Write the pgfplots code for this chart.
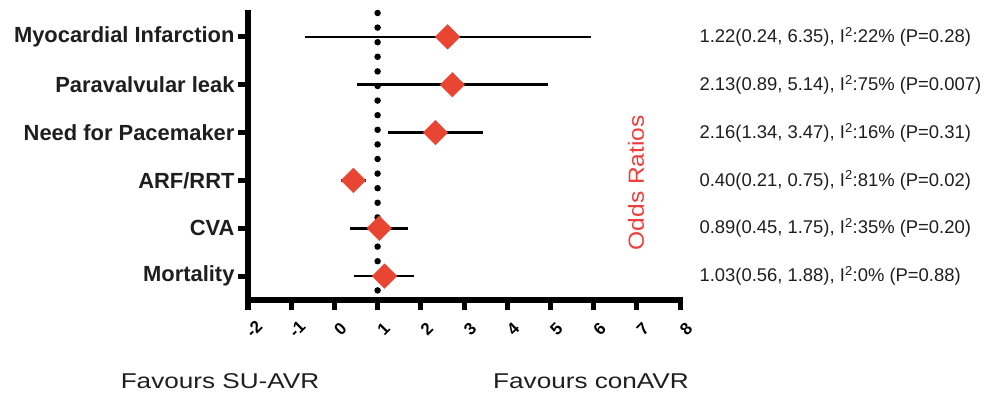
\documentclass[border=0pt]{standalone}
\usepackage{pgfplots}
\pgfplotsset{compat=1.18}
\usepackage{fontspec}
\setmainfont{Liberation Sans}
\definecolor{dred}{RGB}{232,70,50}
\definecolor{ored}{RGB}{236,62,58}
\definecolor{txt}{RGB}{30,30,30}
\begin{document}
\begin{tikzpicture}
\path[use as bounding box] (0,0) rectangle (992bp,394bp);
\begin{axis}[
  at={(248bp,94bp)}, anchor=south west,
  scale only axis, width=432bp, height=287bp,
  xmin=-2, xmax=8, ymin=0.5, ymax=6.5,
  axis x line=bottom, axis y line=left,
  axis line style={-, line width=5.5bp, line cap=rect},
  xtick={-2,...,8}, ytick={1,...,6},
  yticklabels={Mortality, CVA, ARF/RRT, Need for Pacemaker, Paravalvular leak, Myocardial Infarction},
  tick align=outside, major tick length=10bp,
  every tick/.style={black, line width=5bp},
  yticklabel style={font=\fontsize{22}{22}\selectfont\bfseries, text=txt},
  xticklabel style={font=\fontsize{17}{17}\selectfont\bfseries, xshift=6bp, yshift=-19bp, rotate=45, anchor=center},
  /pgf/number format/assume math mode=true,
  clip=false,
]
% reference line of no effect
\addplot[black, line width=6.5bp, line cap=round, dash pattern=on 0bp off 14.6bp] coordinates {(1,6.5) (1,0.5)};
% confidence intervals (drawn beneath the markers)
\addplot[black, line width=2.8bp] coordinates {(-0.69,6) (5.93,6)};
\addplot[black, line width=2.8bp] coordinates {(0.53,5) (4.95,5)};
\addplot[black, line width=2.8bp] coordinates {(1.23,4) (3.43,4)};
% point estimates
\addplot[only marks, mark=square*, mark size=8.7bp, mark options={rotate=45, fill=dred, draw=dred}] coordinates {
(2.62,6) (2.73,5) (2.34,4) (0.44,3) (1.04,2) (1.16,1)};
% confidence intervals (drawn over the markers)
\addplot[black, line width=2.8bp] coordinates {(0.16,3) (0.74,3)};
\addplot[black, line width=2.8bp] coordinates {(0.37,2) (1.71,2)};
\addplot[black, line width=2.8bp] coordinates {(0.46,1) (1.85,1)};
% annotations
\begin{scope}[every node/.style={anchor=west, text=txt, font=\fontsize{18.5}{18.5}\selectfont}]
\node at (axis cs:8.37,6) {1.22(0.24, 6.35), I\textsuperscript{2}:22\% (P=0.28)};
\node at (axis cs:8.37,5) {2.13(0.89, 5.14), I\textsuperscript{2}:75\% (P=0.007)};
\node at (axis cs:8.37,4) {2.16(1.34, 3.47), I\textsuperscript{2}:16\% (P=0.31)};
\node at (axis cs:8.37,3) {0.40(0.21, 0.75), I\textsuperscript{2}:81\% (P=0.02)};
\node at (axis cs:8.37,2) {0.89(0.45, 1.75), I\textsuperscript{2}:35\% (P=0.20)};
\node at (axis cs:8.37,1) {1.03(0.56, 1.88), I\textsuperscript{2}:0\% (P=0.88)};
\end{scope}
\node[rotate=90, text=ored, font=\fontsize{22}{22}\selectfont] at (axis cs:6.98,2.95) {\scalebox{1.12}[1]{Odds Ratios}};
\end{axis}
\node[anchor=base, text=txt, font=\fontsize{21.5}{21.5}\selectfont] at (220bp,6bp) {\scalebox{1.22}[1]{Favours SU-AVR}};
\node[anchor=base, text=txt, font=\fontsize{21.5}{21.5}\selectfont] at (591bp,6bp) {\scalebox{1.22}[1]{Favours conAVR}};
\end{tikzpicture}
\end{document}
